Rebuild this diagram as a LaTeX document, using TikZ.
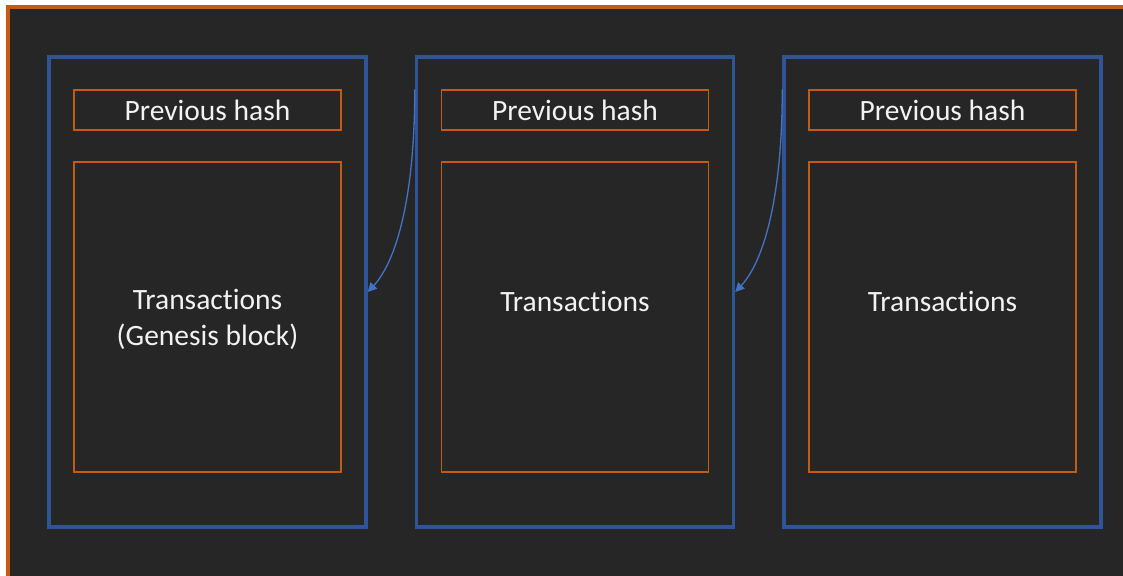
\documentclass[tikz,border=0pt]{standalone}
\usepackage{fontspec}
\setmainfont{Carlito}[Ligatures=NoCommon]
\usetikzlibrary{arrows.meta,calc}
\definecolor{bgdark}{HTML}{262626}
\definecolor{frameorange}{HTML}{C55A11}
\definecolor{blockblue}{HTML}{2F5597}
\definecolor{linkblue}{HTML}{4472C4}
\definecolor{txtwhite}{HTML}{F2F2F2}
\begin{document}
\begin{tikzpicture}[x=1pt,y=-1pt,
  blockbox/.style={draw=blockblue,line width=3.5pt,minimum width=317pt,minimum height=470pt,inner sep=0pt},
  fieldbox/.style={draw=frameorange,line width=1.1pt,minimum width=267pt,inner sep=0pt},
  label/.style={text=txtwhite,font=\fontsize{29.5pt}{36pt}\selectfont,align=center,inner sep=0pt},
  link/.style={draw=linkblue,line width=1.3pt,-{Triangle[length=9pt,width=9pt]}}]
\useasboundingbox (0,0) rectangle (1123,575);
\fill[white] (0,0) rectangle (1123,575);
% dark canvas with its orange frame
\begin{scope}
  \clip (0,0) rectangle (1123,575);
  \draw[frameorange,line width=4pt,fill=bgdark] (8,7) rectangle (1140,590);
\end{scope}
% the three blocks of the chain
\foreach \i/\cx in {1/207.5,2/575,3/942.5}{
  \node[blockbox] (b\i) at (\cx,292) {};
  \node[fieldbox,minimum height=40pt] (h\i) at (\cx,110) {};
  \node[fieldbox,minimum height=310pt] (t\i) at (\cx,317) {};
  \node[label] (hl\i) at (\cx,110) {Previous hash};
}
\node[label] (tl1) at (207.5,319.5) {Transactions\\(Genesis block)};
\node[label] (tl2) at (575,301) {Transactions};
\node[label] (tl3) at (942.5,301) {Transactions};
% links from each block back to the one before it
\coordinate (s2) at (b2.west |- h2.north);
\coordinate (s3) at (b3.west |- h3.north);
\draw[link] (s2) .. controls ($(s2)+(0,110)$) and ($(b1.east)+(28,-30)$) .. (b1.east);
\draw[link] (s3) .. controls ($(s3)+(0,110)$) and ($(b2.east)+(28,-30)$) .. (b2.east);
\end{tikzpicture}
\end{document}
